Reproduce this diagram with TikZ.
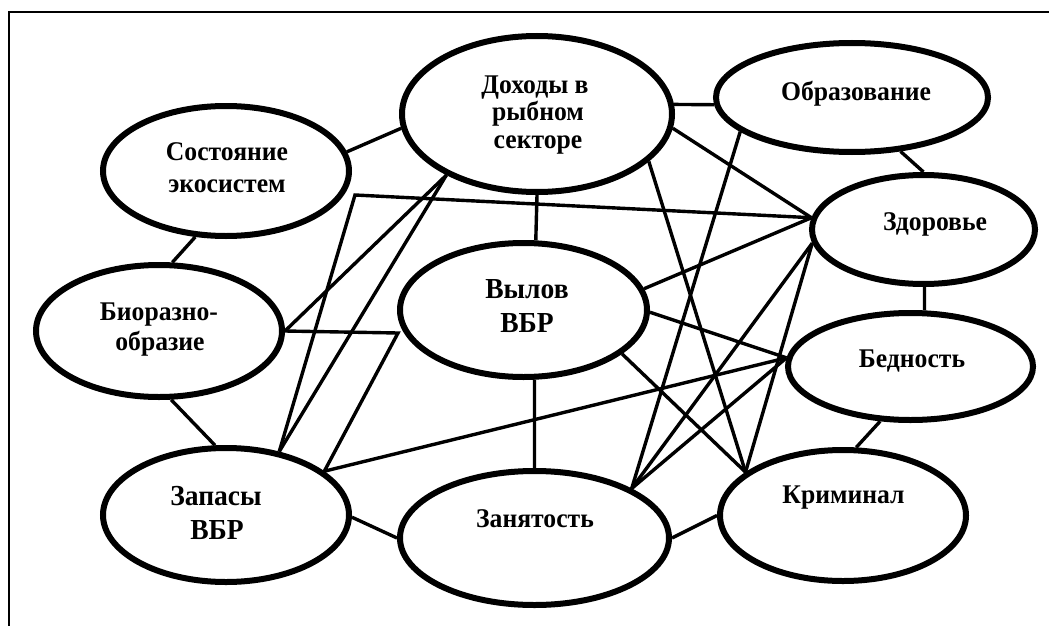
\documentclass[tikz,border=0pt]{standalone}
\usepackage{fontspec}
\setmainfont{Liberation Serif}[FakeStretch=0.95]
\usetikzlibrary{shapes.geometric}
\begin{document}
\begin{tikzpicture}[x=1pt,y=-1pt,
  oval/.style={ellipse, draw, line width=6pt, inner sep=0pt},
  lnk/.style={line width=3.4pt},
  lbl/.style={font=\bfseries\fontsize{27}{30}\selectfont, anchor=base, inner sep=0pt},
  lblbig/.style={lbl, font=\bfseries\fontsize{29}{32}\selectfont}]
\useasboundingbox (0,0) rectangle (1049,626);
\draw[line width=2.5pt] (9,626) -- (9,12) -- (1049,12);

\node[oval, minimum width=246pt, minimum height=130pt] (sost) at (226,171) {};
\node[oval, minimum width=270pt, minimum height=156pt] (doh) at (537,114) {};
\node[oval, minimum width=272pt, minimum height=109pt] (obr) at (852,97.5) {};
\node[oval, minimum width=223pt, minimum height=109pt] (zdr) at (923.5,229.5) {};
\node[oval, minimum width=246pt, minimum height=132pt] (bio) at (159,331) {};
\node[oval, minimum width=247pt, minimum height=134pt] (vyl) at (523.5,310) {};
\node[oval, minimum width=245pt, minimum height=107pt] (bed) at (910.5,366.5) {};
\node[oval, minimum width=246pt, minimum height=134pt] (zap) at (226,515) {};
\node[oval, minimum width=269pt, minimum height=134pt] (zan) at (534.5,538) {};
\node[oval, minimum width=246pt, minimum height=131pt] (krim) at (843,515.5) {};

\node[lbl] (t1a) at (227,160.7) {Состояние};
\node[lbl] (t1b) at (227,192.7) {экосистем};
\node[lbl] (t2a) at (535,93) {Доходы в};
\node[lbl] (t2b) at (538,120) {рыбном};
\node[lbl] (t2c) at (538,148) {секторе};
\node[lbl] (t3) at (856,100) {Образование};
\node[lbl] (t4) at (935,230) {Здоровье};
\node[lbl] (t5a) at (159,320.5) {Биоразно-};
\node[lbl] (t5b) at (160,350) {образие};
\node[lblbig] (t6a) at (527,298) {Вылов};
\node[lblbig] (t6b) at (527,332) {ВБР};
\node[lbl] (t7) at (912,367) {Бедность};
\node[lblbig] (t8a) at (216,505) {Запасы};
\node[lblbig] (t8b) at (217,539) {ВБР};
\node[lbl] (t9) at (535,527) {Занятость};
\node[lbl] (t10) at (843.5,503) {Криминал};

\draw[lnk] (sost.9) -- (doh.186);
\draw[lnk] (sost.245) -- (bio.79);
\draw[lnk] (doh.4) -- (obr.183);
\draw[lnk] (obr.312) -- (zdr.90);
\draw[lnk] (doh.270) -- (vyl.80);
\draw[lnk] (zdr.271) -- (bed.76);
\draw[lnk] (bed.241) -- (krim.79);
\draw[lnk] (bio.280) -- (zap.99);
\draw[lnk] (zap.359) -- (zan.180);
\draw[lnk] (vyl.279) -- (zan.90);
\draw[lnk] (zan.0) -- (krim.180);

\coordinate (j1) at (355,195);
\coordinate (j2) at (398,333);
\draw[lnk] (zap.50) -- (j1) -- (zdr.174);
\draw[lnk] (zap.50) -- (doh.214);
\draw[lnk] (bio.0) -- (doh.214);
\draw[lnk] (bio.0) -- (j2) -- (zap.24) -- (bed.176);
\draw[lnk] (doh.354) -- (zdr.174);
\draw[lnk] (doh.337) -- (krim.156);
\draw[lnk] (vyl.10) -- (zdr.174);
\draw[lnk] (vyl.359) -- (bed.176);
\draw[lnk] (vyl.336) -- (krim.156);
\draw[lnk] (obr.197) -- (zan.27);
\draw[lnk] (zdr.187) -- (zan.27);
\draw[lnk] (zdr.187) -- (krim.156);
\draw[lnk] (zan.27) -- (bed.176);
\end{tikzpicture}
\end{document}
